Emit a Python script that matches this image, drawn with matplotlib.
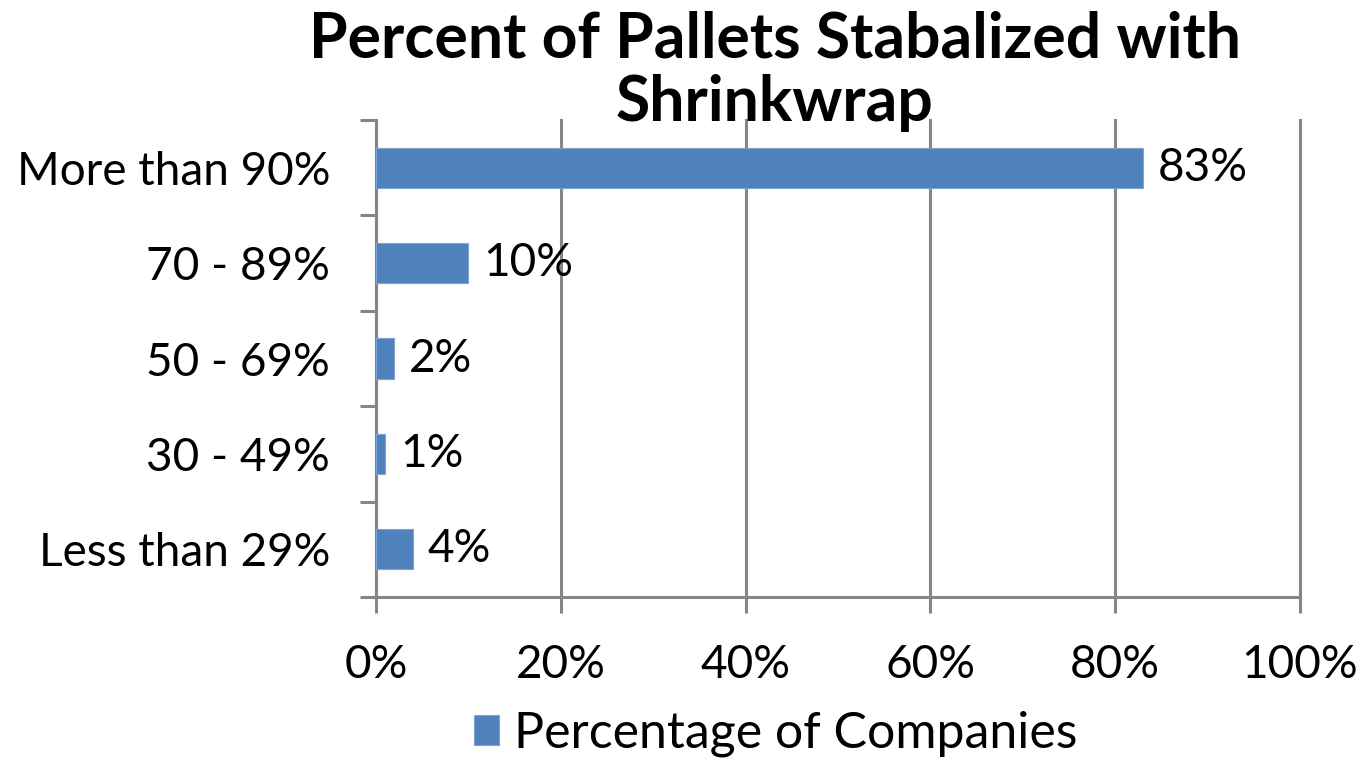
import matplotlib.pyplot as plt

# data
categories = ['More than 90%', '70 - 89%', '50 - 69%', '30 - 49%', 'Less than 29%']
values = [83, 10, 2, 1, 4]
xticks = [0, 20, 40, 60, 80, 100]
series_name = 'Percentage of Companies'
title = 'Percent of Pallets Stabalized with\nShrinkwrap'

bar_color = '#4F81BD'
grid_color = '#868686'

plt.rcParams['font.family'] = ['Lato', 'DejaVu Sans']
fs = 33

fig = plt.figure(figsize=(13.64, 7.6), dpi=100)
ax = fig.add_axes([376 / 1364, 1 - 597 / 760, 924 / 1364, 477 / 760])

ypos = list(range(len(categories)))[::-1]
bars = ax.barh(ypos, values, height=0.42, color=bar_color, edgecolor='#7FA3D3',
               linewidth=0.8, zorder=3, label=series_name)

for y, v in zip(ypos, values):
    ax.text(v + 1.6, y, '%d%%' % v, va='center', ha='left', fontsize=fs, color='black')

ax.set_xlim(0, 100)
ax.set_ylim(-0.5, len(categories) - 0.5)
ax.set_xticks(xticks)
ax.set_xticklabels(['%d%%' % t for t in xticks], fontsize=fs)
ax.grid(axis='x', color=grid_color, linewidth=2.2, zorder=0)
for gl in ax.get_xgridlines():
    gl.set_clip_on(False)
ax.set_axisbelow(True)

# category boundaries as major ticks, labels on minor ticks
ax.set_yticks([i - 0.5 for i in range(len(categories) + 1)])
ax.set_yticklabels([])
ax.set_yticks(ypos, minor=True)
ax.set_yticklabels(categories, minor=True, fontsize=fs)
ax.tick_params(axis='y', which='major', length=11.5, width=2.2, color=grid_color)
ax.tick_params(axis='y', which='minor', length=0, pad=33)
ax.tick_params(axis='x', length=11.5, width=2.2, color=grid_color, pad=22)

for s in ['top', 'right']:
    ax.spines[s].set_visible(False)
for s in ['left', 'bottom']:
    ax.spines[s].set_color(grid_color)
    ax.spines[s].set_linewidth(2.2)

fig.text(775 / 1364, 1 - 10 / 760, title, ha='center', va='top', fontsize=45,
         fontweight='bold', linespacing=1.12)

fig.legend(handles=[bars], labels=[series_name], loc='center',
           bbox_to_anchor=(776 / 1364, 1 - 734 / 760), frameon=False,
           prop={'size': 36},
           handlelength=0.5, handleheight=0.55, handletextpad=0.3)

fig.savefig('out.png', dpi=100)
